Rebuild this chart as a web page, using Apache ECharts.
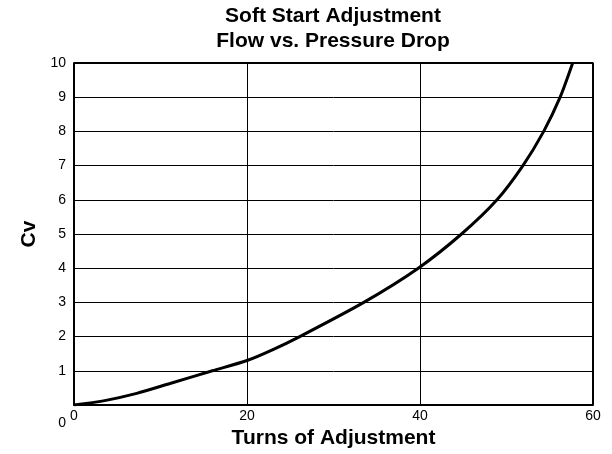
<!DOCTYPE html>
<html>
<head>
<meta charset="utf-8">
<script src="https://cdn.jsdelivr.net/npm/echarts@6/dist/echarts.min.js"></script>
<style>
  html, body { margin: 0; padding: 0; background: #fff; }
  #chart { width: 612px; height: 454px; }
</style>
</head>
<body>
<div id="chart"></div>
<script>
  // curve: turns -> Cv
  const turns = [0, 3.4, 7.25, 11.1, 16, 20, 23, 26.1, 33.5, 39.8, 44.8, 48.9, 51.9, 54.3, 56.2, 57.65]
  const cv = [0, 0.12, 0.34, 0.63, 1.0, 1.3, 1.62, 2.0, 3.0, 4.0, 5.0, 6.0, 7.0, 8.0, 9.0, 10.0]
  const titleLines = ['Soft Start Adjustment', 'Flow vs. Pressure Drop']

  const font = 'Liberation Sans, Arial, Helvetica, sans-serif'
  const chart = echarts.init(document.getElementById('chart'))

  chart.setOption({
    animation: false,
    backgroundColor: '#fff',
    title: {
      text: titleLines.join('\n'),
      left: 333,
      textAlign: 'center',
      top: 4,
      padding: 0,
      textStyle: {
        fontFamily: font,
        fontSize: 21,
        fontWeight: 'bold',
        color: '#000',
        lineHeight: 25,
      },
    },
    grid: { left: 74, right: 19, top: 63, bottom: 45 },
    xAxis: {
      type: 'value',
      min: 0,
      max: 60,
      interval: 20,
      name: 'Turns of Adjustment',
      nameLocation: 'center',
      nameGap: 23,
      nameTextStyle: { fontFamily: font, fontSize: 21, fontWeight: 'bold', color: '#000' },
      axisLine: { show: true, lineStyle: { color: '#000', width: 2 } },
      axisTick: { show: false },
      axisLabel: { fontFamily: font, fontSize: 14, color: '#000', margin: 4 },
      splitLine: { show: true, lineStyle: { color: '#000', width: 1 } },
    },
    yAxis: {
      type: 'value',
      min: 0,
      max: 10,
      interval: 1,
      name: 'Cv',
      nameLocation: 'center',
      nameGap: 33,
      nameTextStyle: { fontFamily: font, fontSize: 21, fontWeight: 'bold', color: '#000' },
      axisLine: { show: true, lineStyle: { color: '#000', width: 2 } },
      axisTick: { show: false },
      axisLabel: {
        fontFamily: font,
        fontSize: 14,
        color: '#000',
        margin: 8,
        // the 0 sits down level with the x-axis labels
        formatter: (v) => (v === 0 ? '{z|0}' : String(v)),
        rich: { z: { fontFamily: font, fontSize: 14, color: '#000', padding: [36, 0, 0, 0] } },
      },
      splitLine: { show: true, lineStyle: { color: '#000', width: 1 } },
    },
    series: [
      {
        type: 'line',
        data: turns.map((t, i) => [t, cv[i]]),
        smooth: 0.25,
        symbol: 'none',
        lineStyle: { color: '#000', width: 3 },
      },
      {
        // closes the box on the top and right
        type: 'line',
        data: [[0, 10], [60, 10], [60, 0]],
        symbol: 'none',
        silent: true,
        lineStyle: { color: '#000', width: 2 },
      },
    ],
  })
</script>
</body>
</html>
